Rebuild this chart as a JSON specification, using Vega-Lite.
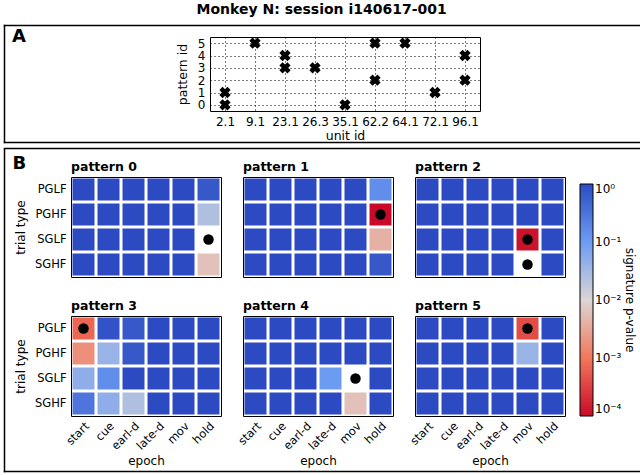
{
  "$schema": "https://vega.github.io/schema/vega-lite/v6.json",
  "padding": {"left": 0, "right": 0, "top": 2, "bottom": 0},
  "title": {"text": "Monkey N: session i140617-001", "anchor": "start", "frame": "bounds", "dx": 196, "fontSize": 14, "fontWeight": "bold", "offset": 5},
  "config": {
    "font": "DejaVu Sans",
    "view": {"stroke": "black", "strokeWidth": 1},
    "axis": {"labelColor": "black", "titleColor": "black", "labelFontSize": 11.5, "titleFontSize": 12, "titleFontWeight": "normal", "domain": false, "ticks": false, "grid": false},
    "title": {"anchor": "start", "frame": "group", "fontSize": 12.5, "fontWeight": "bold", "offset": 4, "color": "black"},
    "legend": {"labelColor": "black", "titleColor": "black"}
  },
  "datasets": {
    "units": [
      {"unit": "2.1", "pattern": 0}, {"unit": "2.1", "pattern": 1},
      {"unit": "9.1", "pattern": 5},
      {"unit": "23.1", "pattern": 3}, {"unit": "23.1", "pattern": 4},
      {"unit": "26.3", "pattern": 3},
      {"unit": "35.1", "pattern": 0},
      {"unit": "62.2", "pattern": 2}, {"unit": "62.2", "pattern": 5},
      {"unit": "64.1", "pattern": 5},
      {"unit": "72.1", "pattern": 1},
      {"unit": "96.1", "pattern": 2}, {"unit": "96.1", "pattern": 4}
    ],
    "cells": [
      {"pt":0,"tt":"PGLF","ep":"start","p":1},{"pt":0,"tt":"PGLF","ep":"cue","p":1},{"pt":0,"tt":"PGLF","ep":"earl-d","p":1},{"pt":0,"tt":"PGLF","ep":"late-d","p":1},{"pt":0,"tt":"PGLF","ep":"mov","p":1},{"pt":0,"tt":"PGLF","ep":"hold","p":0.7},
      {"pt":0,"tt":"PGHF","ep":"start","p":1},{"pt":0,"tt":"PGHF","ep":"cue","p":1},{"pt":0,"tt":"PGHF","ep":"earl-d","p":1},{"pt":0,"tt":"PGHF","ep":"late-d","p":1},{"pt":0,"tt":"PGHF","ep":"mov","p":1},{"pt":0,"tt":"PGHF","ep":"hold","p":0.025},
      {"pt":0,"tt":"SGLF","ep":"start","p":1},{"pt":0,"tt":"SGLF","ep":"cue","p":1},{"pt":0,"tt":"SGLF","ep":"earl-d","p":1},{"pt":0,"tt":"SGLF","ep":"late-d","p":1},{"pt":0,"tt":"SGLF","ep":"mov","p":1},{"pt":0,"tt":"SGLF","ep":"hold","p":null,"s":1},
      {"pt":0,"tt":"SGHF","ep":"start","p":1},{"pt":0,"tt":"SGHF","ep":"cue","p":1},{"pt":0,"tt":"SGHF","ep":"earl-d","p":1},{"pt":0,"tt":"SGHF","ep":"late-d","p":1},{"pt":0,"tt":"SGHF","ep":"mov","p":1},{"pt":0,"tt":"SGHF","ep":"hold","p":0.006},

      {"pt":1,"tt":"PGLF","ep":"start","p":1},{"pt":1,"tt":"PGLF","ep":"cue","p":1},{"pt":1,"tt":"PGLF","ep":"earl-d","p":1},{"pt":1,"tt":"PGLF","ep":"late-d","p":1},{"pt":1,"tt":"PGLF","ep":"mov","p":1},{"pt":1,"tt":"PGLF","ep":"hold","p":0.15},
      {"pt":1,"tt":"PGHF","ep":"start","p":1},{"pt":1,"tt":"PGHF","ep":"cue","p":1},{"pt":1,"tt":"PGHF","ep":"earl-d","p":1},{"pt":1,"tt":"PGHF","ep":"late-d","p":1},{"pt":1,"tt":"PGHF","ep":"mov","p":1},{"pt":1,"tt":"PGHF","ep":"hold","p":0.0001,"s":1},
      {"pt":1,"tt":"SGLF","ep":"start","p":1},{"pt":1,"tt":"SGLF","ep":"cue","p":1},{"pt":1,"tt":"SGLF","ep":"earl-d","p":1},{"pt":1,"tt":"SGLF","ep":"late-d","p":1},{"pt":1,"tt":"SGLF","ep":"mov","p":1},{"pt":1,"tt":"SGLF","ep":"hold","p":0.004},
      {"pt":1,"tt":"SGHF","ep":"start","p":1},{"pt":1,"tt":"SGHF","ep":"cue","p":1},{"pt":1,"tt":"SGHF","ep":"earl-d","p":1},{"pt":1,"tt":"SGHF","ep":"late-d","p":1},{"pt":1,"tt":"SGHF","ep":"mov","p":1},{"pt":1,"tt":"SGHF","ep":"hold","p":0.7},

      {"pt":2,"tt":"PGLF","ep":"start","p":1},{"pt":2,"tt":"PGLF","ep":"cue","p":1},{"pt":2,"tt":"PGLF","ep":"earl-d","p":1},{"pt":2,"tt":"PGLF","ep":"late-d","p":1},{"pt":2,"tt":"PGLF","ep":"mov","p":1},{"pt":2,"tt":"PGLF","ep":"hold","p":1},
      {"pt":2,"tt":"PGHF","ep":"start","p":1},{"pt":2,"tt":"PGHF","ep":"cue","p":1},{"pt":2,"tt":"PGHF","ep":"earl-d","p":1},{"pt":2,"tt":"PGHF","ep":"late-d","p":1},{"pt":2,"tt":"PGHF","ep":"mov","p":1},{"pt":2,"tt":"PGHF","ep":"hold","p":1},
      {"pt":2,"tt":"SGLF","ep":"start","p":1},{"pt":2,"tt":"SGLF","ep":"cue","p":1},{"pt":2,"tt":"SGLF","ep":"earl-d","p":1},{"pt":2,"tt":"SGLF","ep":"late-d","p":1},{"pt":2,"tt":"SGLF","ep":"mov","p":0.00012,"s":1},{"pt":2,"tt":"SGLF","ep":"hold","p":1},
      {"pt":2,"tt":"SGHF","ep":"start","p":1},{"pt":2,"tt":"SGHF","ep":"cue","p":1},{"pt":2,"tt":"SGHF","ep":"earl-d","p":1},{"pt":2,"tt":"SGHF","ep":"late-d","p":1},{"pt":2,"tt":"SGHF","ep":"mov","p":null,"s":1},{"pt":2,"tt":"SGHF","ep":"hold","p":1},

      {"pt":3,"tt":"PGLF","ep":"start","p":0.0007,"s":1},{"pt":3,"tt":"PGLF","ep":"cue","p":0.8},{"pt":3,"tt":"PGLF","ep":"earl-d","p":0.7},{"pt":3,"tt":"PGLF","ep":"late-d","p":1},{"pt":3,"tt":"PGLF","ep":"mov","p":1},{"pt":3,"tt":"PGLF","ep":"hold","p":1},
      {"pt":3,"tt":"PGHF","ep":"start","p":0.0018},{"pt":3,"tt":"PGHF","ep":"cue","p":0.04},{"pt":3,"tt":"PGHF","ep":"earl-d","p":0.7},{"pt":3,"tt":"PGHF","ep":"late-d","p":1},{"pt":3,"tt":"PGHF","ep":"mov","p":1},{"pt":3,"tt":"PGHF","ep":"hold","p":1},
      {"pt":3,"tt":"SGLF","ep":"start","p":0.05},{"pt":3,"tt":"SGLF","ep":"cue","p":0.15},{"pt":3,"tt":"SGLF","ep":"earl-d","p":1},{"pt":3,"tt":"SGLF","ep":"late-d","p":1},{"pt":3,"tt":"SGLF","ep":"mov","p":1},{"pt":3,"tt":"SGLF","ep":"hold","p":1},
      {"pt":3,"tt":"SGHF","ep":"start","p":0.3},{"pt":3,"tt":"SGHF","ep":"cue","p":0.05},{"pt":3,"tt":"SGHF","ep":"earl-d","p":0.025},{"pt":3,"tt":"SGHF","ep":"late-d","p":1},{"pt":3,"tt":"SGHF","ep":"mov","p":1},{"pt":3,"tt":"SGHF","ep":"hold","p":1},

      {"pt":4,"tt":"PGLF","ep":"start","p":1},{"pt":4,"tt":"PGLF","ep":"cue","p":1},{"pt":4,"tt":"PGLF","ep":"earl-d","p":1},{"pt":4,"tt":"PGLF","ep":"late-d","p":1},{"pt":4,"tt":"PGLF","ep":"mov","p":1},{"pt":4,"tt":"PGLF","ep":"hold","p":1},
      {"pt":4,"tt":"PGHF","ep":"start","p":1},{"pt":4,"tt":"PGHF","ep":"cue","p":1},{"pt":4,"tt":"PGHF","ep":"earl-d","p":1},{"pt":4,"tt":"PGHF","ep":"late-d","p":1},{"pt":4,"tt":"PGHF","ep":"mov","p":1},{"pt":4,"tt":"PGHF","ep":"hold","p":1},
      {"pt":4,"tt":"SGLF","ep":"start","p":1},{"pt":4,"tt":"SGLF","ep":"cue","p":1},{"pt":4,"tt":"SGLF","ep":"earl-d","p":1},{"pt":4,"tt":"SGLF","ep":"late-d","p":0.1},{"pt":4,"tt":"SGLF","ep":"mov","p":null,"s":1},{"pt":4,"tt":"SGLF","ep":"hold","p":1},
      {"pt":4,"tt":"SGHF","ep":"start","p":1},{"pt":4,"tt":"SGHF","ep":"cue","p":1},{"pt":4,"tt":"SGHF","ep":"earl-d","p":1},{"pt":4,"tt":"SGHF","ep":"late-d","p":1},{"pt":4,"tt":"SGHF","ep":"mov","p":0.006},{"pt":4,"tt":"SGHF","ep":"hold","p":1},

      {"pt":5,"tt":"PGLF","ep":"start","p":1},{"pt":5,"tt":"PGLF","ep":"cue","p":1},{"pt":5,"tt":"PGLF","ep":"earl-d","p":1},{"pt":5,"tt":"PGLF","ep":"late-d","p":1},{"pt":5,"tt":"PGLF","ep":"mov","p":0.0004,"s":1},{"pt":5,"tt":"PGLF","ep":"hold","p":1},
      {"pt":5,"tt":"PGHF","ep":"start","p":1},{"pt":5,"tt":"PGHF","ep":"cue","p":1},{"pt":5,"tt":"PGHF","ep":"earl-d","p":1},{"pt":5,"tt":"PGHF","ep":"late-d","p":1},{"pt":5,"tt":"PGHF","ep":"mov","p":0.04},{"pt":5,"tt":"PGHF","ep":"hold","p":1},
      {"pt":5,"tt":"SGLF","ep":"start","p":1},{"pt":5,"tt":"SGLF","ep":"cue","p":1},{"pt":5,"tt":"SGLF","ep":"earl-d","p":1},{"pt":5,"tt":"SGLF","ep":"late-d","p":1},{"pt":5,"tt":"SGLF","ep":"mov","p":1},{"pt":5,"tt":"SGLF","ep":"hold","p":1},
      {"pt":5,"tt":"SGHF","ep":"start","p":1},{"pt":5,"tt":"SGHF","ep":"cue","p":1},{"pt":5,"tt":"SGHF","ep":"earl-d","p":1},{"pt":5,"tt":"SGHF","ep":"late-d","p":1},{"pt":5,"tt":"SGHF","ep":"mov","p":1},{"pt":5,"tt":"SGHF","ep":"hold","p":1}
    ]
  },
  "resolve": {"scale": {"color": "independent"}, "legend": {"color": "independent"}},
  "bounds": "flush",
  "spacing": 140,
  "vconcat": [
    {
      "spacing": 0,
      "hconcat": [
        {"width": 1, "height": 1, "data": {"values": []}, "mark": "point", "view": {"stroke": "white"}},
        {
          "width": 270, "height": 74,
          "title": {"text": "A", "anchor": "start", "frame": "bounds", "fontSize": 18, "fontWeight": "bold", "dx": 8, "dy": 24, "baseline": "top", "offset": 0},
          "data": {"name": "units"},
          "resolve": {"scale": {"x": "independent", "y": "independent"}, "axis": {"x": "independent", "y": "independent"}},
          "layer": [
            {
              "mark": {"type": "point", "shape": "cross", "angle": 45, "filled": true, "color": "black", "size": 130, "opacity": 1},
              "encoding": {
                "x": {"field": "unit", "type": "ordinal",
                  "scale": {"type": "point", "domain": ["2.1", "9.1", "23.1", "26.3", "35.1", "62.2", "64.1", "72.1", "96.1"], "padding": 0.5},
                  "axis": {"title": "unit id", "labelAngle": 0, "grid": true, "gridDash": [1, 3], "gridColor": "black", "gridOpacity": 1, "labelPadding": 5, "titlePadding": 2, "labelFontSize": 12, "titleFontSize": 12.5}},
                "y": {"field": "pattern", "type": "quantitative",
                  "scale": {"domain": [-0.5, 5.5], "nice": false, "zero": false},
                  "axis": {"title": "pattern id", "values": [0, 1, 2, 3, 4, 5], "grid": true, "gridDash": [1, 3], "gridColor": "black", "gridOpacity": 1, "labelPadding": 5, "titlePadding": 8, "labelFontSize": 12, "titleFontSize": 12.5}}
              }
            },
            {
              "mark": {"type": "point", "opacity": 0},
              "encoding": {
                "x": {"field": "unit", "type": "ordinal", "scale": {"type": "point", "range": [-206, 431]},
                  "axis": {"orient": "top", "offset": 12, "domain": true, "domainColor": "black", "domainWidth": 1.5, "domainCap": "square", "labels": false, "ticks": false, "grid": false, "title": null}},
                "y": {"field": "pattern", "type": "quantitative", "scale": {"range": [105, -12]},
                  "axis": {"orient": "left", "offset": 206, "domain": true, "domainColor": "black", "domainWidth": 1.5, "domainCap": "square", "labels": false, "ticks": false, "grid": false, "title": null}}
              }
            },
            {
              "mark": {"type": "point", "opacity": 0},
              "encoding": {
                "x": {"field": "unit", "type": "ordinal", "scale": {"type": "point", "range": [-206, 431]},
                  "axis": {"orient": "bottom", "offset": 31, "domain": true, "domainColor": "black", "domainWidth": 1.5, "domainCap": "square", "labels": false, "ticks": false, "grid": false, "title": null}},
                "y": {"field": "pattern", "type": "quantitative", "scale": {"range": [105, -12]},
                  "axis": {"orient": "right", "offset": 161, "domain": true, "domainColor": "black", "domainWidth": 1.5, "domainCap": "square", "labels": false, "ticks": false, "grid": false, "title": null}}
              }
            },
            {
              "mark": {"type": "point", "opacity": 0},
              "encoding": {
                "x": {"field": "unit", "type": "ordinal", "scale": {"type": "point", "range": [-206, 431]},
                  "axis": {"orient": "bottom", "offset": 37, "domain": true, "domainColor": "black", "domainWidth": 1.5, "domainCap": "square", "labels": false, "ticks": false, "grid": false,
                    "title": "B", "titleX": -198, "titleY": 6, "titleAlign": "left", "titleBaseline": "top", "titleAngle": 0, "titleFontSize": 18, "titleFontWeight": "bold"}}
              }
            }
          ]
        }
      ]
    },
    {
      "spacing": 0,
      "resolve": {"scale": {"color": "independent"}, "legend": {"color": "independent"}},
      "hconcat": [
        {"width": 1, "height": 1, "data": {"values": []}, "mark": "point", "view": {"stroke": "white"}},
        {
          "columns": 3,
          "bounds": "flush",
          "spacing": {"row": 39, "column": 22},
          "concat": [
            {
              "title": "pattern 0",
              "width": 150, "height": 100,
              "data": {"name": "cells"},
              "transform": [{"filter": "datum.pt == 0"}],
              "resolve": {"scale": {"x": "independent", "y": "independent"}, "axis": {"x": "independent", "y": "independent"}},
              "layer": [
                {
                  "encoding": {
                    "x": {"field": "ep", "type": "ordinal", "scale": {"domain": ["start", "cue", "earl-d", "late-d", "mov", "hold"], "paddingInner": 0.12, "paddingOuter": 0.06}, "axis": null},
                    "y": {"field": "tt", "type": "ordinal", "scale": {"domain": ["PGLF", "PGHF", "SGLF", "SGHF"], "paddingInner": 0.12, "paddingOuter": 0.06}, "axis": {"title": "trial type", "labelPadding": 5, "titlePadding": 7}}
                  },
                  "layer": [
                    {"transform": [{"filter": "isValid(datum.p)"}], "mark": {"type": "rect"},
                     "encoding": {"color": {"field": "p", "type": "quantitative",
                       "scale": {"type": "log", "domain": [0.0001, 0.001, 0.01, 0.1, 1], "range": ["#c80a28", "#f2785c", "#dcd6d4", "#6c9cf2", "#2c4bc2"], "interpolate": "rgb"},
                       "legend": {"title": "signature p-value", "orient": "none", "legendX": 509, "legendY": 7, "padding": 0, "titlePadding": 2, "gradientLength": 232, "gradientThickness": 13, "values": [0.0001, 0.001, 0.01, 0.1, 1], "labelExpr": "datum.value > 0.5 ? '10⁰' : datum.value > 0.05 ? '10⁻¹' : datum.value > 0.005 ? '10⁻²' : datum.value > 0.0005 ? '10⁻³' : '10⁻⁴'", "titleOrient": "right", "titleAngle": 90, "titleFontSize": 12, "titleFontWeight": "normal", "labelFontSize": 12, "gradientStrokeColor": "black", "gradientStrokeWidth": 1, "direction": "vertical"}}}},
                    {"transform": [{"filter": "datum.s == 1"}], "mark": {"type": "circle", "color": "black", "size": 110, "opacity": 1}}
                  ]
                },
                {
                  "mark": {"type": "point", "opacity": 0},
                  "encoding": {
                    "y": {"field": "tt", "type": "ordinal", "scale": {"type": "point", "range": [-28, 294]},
                      "axis": {"orient": "left", "offset": 67, "domain": true, "domainColor": "black", "domainWidth": 1.5, "domainCap": "square", "labels": false, "ticks": false, "grid": false, "title": null}}
                  }
                }
              ]
            },
            {
              "title": "pattern 1", "width": 150, "height": 100,
              "data": {"name": "cells"},
              "transform": [{"filter": "datum.pt == 1"}],
              "encoding": {
                "x": {"field": "ep", "type": "ordinal", "scale": {"domain": ["start", "cue", "earl-d", "late-d", "mov", "hold"], "paddingInner": 0.12, "paddingOuter": 0.06}, "axis": null},
                "y": {"field": "tt", "type": "ordinal", "scale": {"domain": ["PGLF", "PGHF", "SGLF", "SGHF"], "paddingInner": 0.12, "paddingOuter": 0.06}, "axis": null}
              },
              "layer": [
                {"transform": [{"filter": "isValid(datum.p)"}], "mark": {"type": "rect"},
                 "encoding": {"color": {"field": "p", "type": "quantitative",
                   "scale": {"type": "log", "domain": [0.0001, 0.001, 0.01, 0.1, 1], "range": ["#c80a28", "#f2785c", "#dcd6d4", "#6c9cf2", "#2c4bc2"], "interpolate": "rgb"}}}},
                {"transform": [{"filter": "datum.s == 1"}], "mark": {"type": "circle", "color": "black", "size": 110, "opacity": 1}}
              ]
            },
            {
              "title": "pattern 2", "width": 150, "height": 100,
              "data": {"name": "cells"},
              "transform": [{"filter": "datum.pt == 2"}],
              "resolve": {"scale": {"x": "independent", "y": "independent"}, "axis": {"x": "independent", "y": "independent"}},
              "layer": [
                {
                  "encoding": {
                    "x": {"field": "ep", "type": "ordinal", "scale": {"domain": ["start", "cue", "earl-d", "late-d", "mov", "hold"], "paddingInner": 0.12, "paddingOuter": 0.06}, "axis": null},
                    "y": {"field": "tt", "type": "ordinal", "scale": {"domain": ["PGLF", "PGHF", "SGLF", "SGHF"], "paddingInner": 0.12, "paddingOuter": 0.06}, "axis": null}
                  },
                  "layer": [
                    {"transform": [{"filter": "isValid(datum.p)"}], "mark": {"type": "rect"},
                     "encoding": {"color": {"field": "p", "type": "quantitative",
                       "scale": {"type": "log", "domain": [0.0001, 0.001, 0.01, 0.1, 1], "range": ["#c80a28", "#f2785c", "#dcd6d4", "#6c9cf2", "#2c4bc2"], "interpolate": "rgb"}}}},
                    {"transform": [{"filter": "datum.s == 1"}], "mark": {"type": "circle", "color": "black", "size": 110, "opacity": 1}}
                  ]
                },
                {
                  "mark": {"type": "point", "opacity": 0},
                  "encoding": {
                    "y": {"field": "tt", "type": "ordinal", "scale": {"type": "point", "range": [-28, 294]},
                      "axis": {"orient": "right", "offset": 76, "domain": true, "domainColor": "black", "domainWidth": 1.5, "domainCap": "square", "labels": false, "ticks": false, "grid": false, "title": null}}
                  }
                }
              ]
            },
            {
              "title": "pattern 3", "width": 150, "height": 100,
              "data": {"name": "cells"},
              "transform": [{"filter": "datum.pt == 3"}],
              "resolve": {"scale": {"x": "independent", "y": "independent"}, "axis": {"x": "independent", "y": "independent"}},
              "layer": [
                {
                  "encoding": {
                    "x": {"field": "ep", "type": "ordinal", "scale": {"domain": ["start", "cue", "earl-d", "late-d", "mov", "hold"], "paddingInner": 0.12, "paddingOuter": 0.06}, "axis": {"title": "epoch", "labelAngle": -45, "labelPadding": 4}},
                    "y": {"field": "tt", "type": "ordinal", "scale": {"domain": ["PGLF", "PGHF", "SGLF", "SGHF"], "paddingInner": 0.12, "paddingOuter": 0.06}, "axis": {"title": "trial type", "labelPadding": 5, "titlePadding": 7}}
                  },
                  "layer": [
                    {"transform": [{"filter": "isValid(datum.p)"}], "mark": {"type": "rect"},
                     "encoding": {"color": {"field": "p", "type": "quantitative",
                       "scale": {"type": "log", "domain": [0.0001, 0.001, 0.01, 0.1, 1], "range": ["#c80a28", "#f2785c", "#dcd6d4", "#6c9cf2", "#2c4bc2"], "interpolate": "rgb"}}}},
                    {"transform": [{"filter": "datum.s == 1"}], "mark": {"type": "circle", "color": "black", "size": 110, "opacity": 1}}
                  ]
                },
                {
                  "mark": {"type": "point", "opacity": 0},
                  "encoding": {
                    "x": {"field": "ep", "type": "ordinal", "scale": {"type": "point", "range": [-67, 570]},
                      "axis": {"orient": "bottom", "offset": 55, "domain": true, "domainColor": "black", "domainWidth": 1.5, "domainCap": "square", "labels": false, "ticks": false, "grid": false, "title": null}}
                  }
                }
              ]
            },
            {
              "title": "pattern 4", "width": 150, "height": 100,
              "data": {"name": "cells"},
              "transform": [{"filter": "datum.pt == 4"}],
              "encoding": {
                "x": {"field": "ep", "type": "ordinal", "scale": {"domain": ["start", "cue", "earl-d", "late-d", "mov", "hold"], "paddingInner": 0.12, "paddingOuter": 0.06}, "axis": {"title": "epoch", "labelAngle": -45, "labelPadding": 4}},
                "y": {"field": "tt", "type": "ordinal", "scale": {"domain": ["PGLF", "PGHF", "SGLF", "SGHF"], "paddingInner": 0.12, "paddingOuter": 0.06}, "axis": null}
              },
              "layer": [
                {"transform": [{"filter": "isValid(datum.p)"}], "mark": {"type": "rect"},
                 "encoding": {"color": {"field": "p", "type": "quantitative",
                   "scale": {"type": "log", "domain": [0.0001, 0.001, 0.01, 0.1, 1], "range": ["#c80a28", "#f2785c", "#dcd6d4", "#6c9cf2", "#2c4bc2"], "interpolate": "rgb"}}}},
                {"transform": [{"filter": "datum.s == 1"}], "mark": {"type": "circle", "color": "black", "size": 110, "opacity": 1}}
              ]
            },
            {
              "title": "pattern 5", "width": 150, "height": 100,
              "data": {"name": "cells"},
              "transform": [{"filter": "datum.pt == 5"}],
              "encoding": {
                "x": {"field": "ep", "type": "ordinal", "scale": {"domain": ["start", "cue", "earl-d", "late-d", "mov", "hold"], "paddingInner": 0.12, "paddingOuter": 0.06}, "axis": {"title": "epoch", "labelAngle": -45, "labelPadding": 4}},
                "y": {"field": "tt", "type": "ordinal", "scale": {"domain": ["PGLF", "PGHF", "SGLF", "SGHF"], "paddingInner": 0.12, "paddingOuter": 0.06}, "axis": null}
              },
              "layer": [
                {"transform": [{"filter": "isValid(datum.p)"}], "mark": {"type": "rect"},
                 "encoding": {"color": {"field": "p", "type": "quantitative",
                   "scale": {"type": "log", "domain": [0.0001, 0.001, 0.01, 0.1, 1], "range": ["#c80a28", "#f2785c", "#dcd6d4", "#6c9cf2", "#2c4bc2"], "interpolate": "rgb"}}}},
                {"transform": [{"filter": "datum.s == 1"}], "mark": {"type": "circle", "color": "black", "size": 110, "opacity": 1}}
              ]
            }
          ]
        }
      ]
    }
  ]
}
